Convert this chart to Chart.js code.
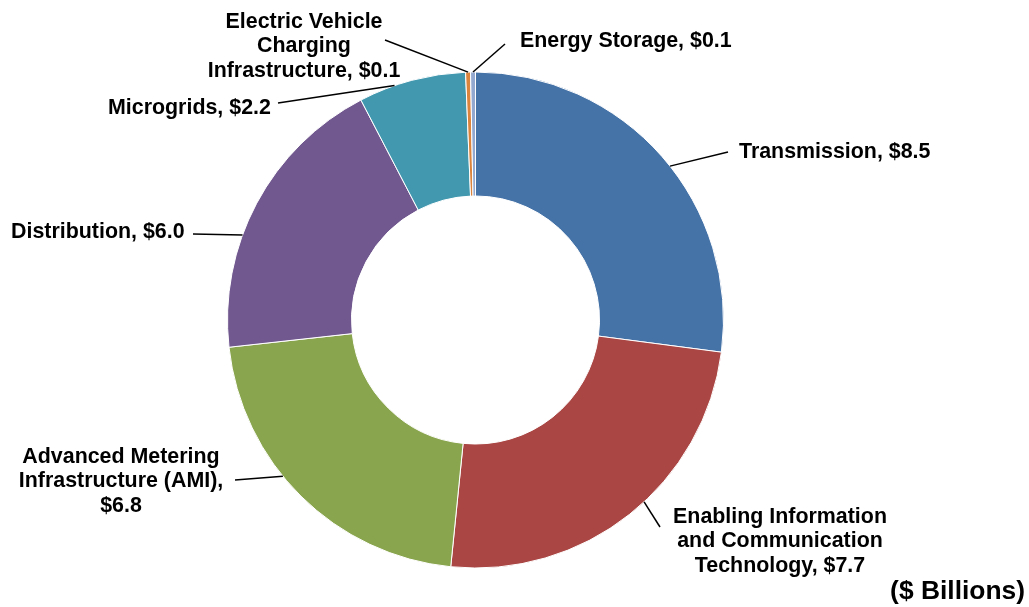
<!DOCTYPE html>
<html>
<head>
<meta charset="utf-8">
<title>Smart Grid Spending</title>
<script src="https://cdn.jsdelivr.net/npm/chart.js@4/dist/chart.umd.min.js"></script>
<style>
  html, body { margin: 0; padding: 0; background: #ffffff; }
  #wrap { width: 1029px; height: 607px; position: relative; }
</style>
</head>
<body>
<div id="wrap"><canvas id="donut" width="1029" height="607"></canvas></div>
<script>
// ----------------------
// Data
// ----------------------
const categories = [
  'Transmission',
  'Enabling Information\nand Communication\nTechnology',
  'Advanced Metering\nInfrastructure (AMI)',
  'Distribution',
  'Microgrids',
  'Electric Vehicle\nCharging\nInfrastructure',
  'Energy Storage',
];
const values = [8.5, 7.7, 6.8, 6.0, 2.2, 0.1, 0.1];
const sliceColors = ['#4572A7', '#AA4643', '#89A54E', '#71588F', '#4198AF', '#DB843D', '#93A9CF'];
const unitsLabel = '($ Billions)';

// ----------------------
// Label placement (text anchor, leader end, where the leader meets the slice)
// ----------------------
const labelLayout = [
  { x: 739, y: 152, align: 'left',   lead: [728, 152], t: 0.53 },
  { x: 780, y: 517, align: 'center', lead: [660, 527], t: 0.45 },
  { x: 121, y: 457, align: 'center', lead: [235, 480], t: 0.58, valueOnOwnLine: true },
  { x: 11,  y: 232, align: 'left',   lead: [193, 234], t: 0.383 },
  { x: 108, y: 108, align: 'left',   lead: [278, 103], t: 0.335 },
  { x: 304, y: 22,  align: 'center', lead: [385, 40],  t: 0.5 },
  { x: 520, y: 41,  align: 'left',   lead: [505, 44],  t: 0.5 },
];

const labelFont = 'bold 21.4px "Liberation Sans", Arial, sans-serif';
const lineHeight = 24.5;

function labelLines(i) {
  const name = categories[i].split('\n');
  const v = '$' + values[i].toFixed(1);
  if (labelLayout[i].valueOnOwnLine) {
    name[name.length - 1] += ',';
    name.push(v);
  } else {
    name[name.length - 1] += ', ' + v;
  }
  return name;
}

// Draws the data labels with leader lines, plus the units note
const calloutPlugin = {
  id: 'callouts',
  afterDatasetsDraw(chart) {
    const ctx = chart.ctx;
    const arcs = chart.getDatasetMeta(0).data;
    ctx.save();
    ctx.strokeStyle = '#000000';
    ctx.lineWidth = 1.5;
    ctx.fillStyle = '#000000';
    ctx.font = labelFont;
    ctx.textBaseline = 'middle';

    arcs.forEach((arc, i) => {
      const lay = labelLayout[i];
      const a = arc.startAngle + lay.t * (arc.endAngle - arc.startAngle);
      const px = arc.x + Math.cos(a) * arc.outerRadius;
      const py = arc.y + Math.sin(a) * arc.outerRadius;
      ctx.beginPath();
      ctx.moveTo(lay.lead[0], lay.lead[1]);
      ctx.lineTo(px, py);
      ctx.stroke();

      ctx.textAlign = lay.align;
      labelLines(i).forEach((line, k) => {
        ctx.fillText(line, lay.x, lay.y + k * lineHeight);
      });
    });

    ctx.font = 'bold 26.4px "Liberation Sans", Arial, sans-serif';
    ctx.textAlign = 'right';
    ctx.fillText(unitsLabel, 1025, 592);
    ctx.restore();
  },
};

new Chart(document.getElementById('donut'), {
  type: 'doughnut',
  data: {
    labels: categories,
    datasets: [{
      data: values,
      backgroundColor: sliceColors,
      borderColor: '#ffffff',
      borderWidth: 1,
    }],
  },
  options: {
    responsive: false,
    animation: false,
    cutout: '50%',
    layout: { padding: { top: 71, bottom: 38, left: 227, right: 305 } },
    plugins: {
      legend: { display: false },
      tooltip: { enabled: false },
    },
  },
  plugins: [calloutPlugin],
});
</script>
</body>
</html>
